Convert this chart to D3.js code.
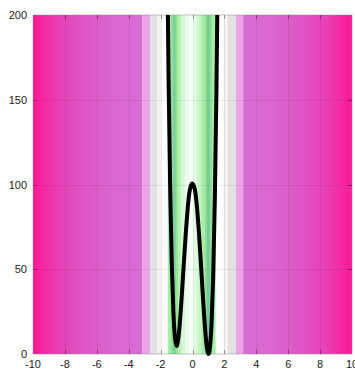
<!DOCTYPE html>
<html>
<head>
<meta charset="utf-8">
<script src="https://cdn.jsdelivr.net/npm/d3@7"></script>
<style>
  body { margin: 0; background: #fff; }
  svg  { display: block; font-family: "Liberation Sans", Arial, sans-serif; }
</style>
</head>
<body>
<svg id="chart" width="355" height="370"></svg>
<script>
'use strict';

/* ── Data ─────────────────────────────────────────────── */
const xTicks = [-10, -8, -6, -4, -2, 0, 2, 4, 6, 8, 10];
const yTicks = [0, 50, 100, 150, 200];

// double-well curve, sampled
const curveX = [-1.6, -1.5, -1.4, -1.3, -1.2, -1.1, -1.0, -0.9, -0.8, -0.7, -0.6, -0.5, -0.4,
                -0.3, -0.2, -0.1, 0, 0.1, 0.2, 0.3, 0.4, 0.5, 0.6, 0.7, 0.8, 0.9, 1.0,
                1.1, 1.2, 1.3, 1.4, 1.5, 1.6];
const curveY = [249.9, 162.5, 98.2, 53.4, 24.9, 9.7, 4.8, 8.4, 17.5, 30.3, 45.0, 60.0, 74.1,
                86.1, 95.0, 99.3, 100.5, 98.8, 94.0, 84.6, 72.1, 57.5, 42.0, 26.8, 13.5, 3.9, 0,
                4.2, 18.9, 46.9, 91.2, 155.0, 241.9];

// centre colour bands: edges (x) and fills
const bandEdges  = [-3.17, -2.66, -2.23, -1.95, -1.55, -1.38, -1.22, -1.05, -0.9, -0.7, -0.45, -0.2,
                    0.05, 0.3, 0.55, 0.75, 0.9, 1.08, 1.25, 1.45, 1.95, 2.23, 2.72, 3.17];
const bandColors = ['#e9a8e5', '#e2e2e2', '#f3f3f3', '#ffffff', '#a3f0a3', '#8fe08f', '#7ccfa0',
                    '#96e696', '#b5f2b5', '#d6f8d6', '#eefcee', '#fbfffb', '#e0fae0', '#c8f5c8',
                    '#a6eea6', '#92e092', '#74c9a0', '#8fe08f', '#a3f0a3', '#ffffff', '#f3f3f3',
                    '#e2e2e2', '#e9a8e5'];

// outer gradient, by |x|
const edgeStops  = [3.17, 5, 7, 8.5, 10];
const edgeColors = ['#d86dd4', '#da66cf', '#e053c4', '#ea3db2', '#fc1896'];

/* ── Layout ───────────────────────────────────────────── */
const W = 355, H = 370;
const PAD_L = 33, PAD_R = 3, PAD_T = 15, PAD_B = 16;

const svg = d3.select('#chart');

const xScale = d3.scaleLinear().domain([-10, 10]).range([PAD_L, W - PAD_R]);
const yScale = d3.scaleLinear().domain([0, 200]).range([H - PAD_B, PAD_T]);

const defs = svg.append('defs');

/* outer gradients, left and right */
[['edge-l', -1], ['edge-r', 1]].forEach(([id, sgn]) => {
  const g = defs.append('linearGradient')
    .attr('id', id).attr('gradientUnits', 'userSpaceOnUse')
    .attr('x1', xScale(sgn * edgeStops[0])).attr('x2', xScale(sgn * 10))
    .attr('y1', 0).attr('y2', 0);
  edgeStops.forEach((s, i) => {
    g.append('stop')
      .attr('offset', (s - edgeStops[0]) / (10 - edgeStops[0]))
      .attr('stop-color', edgeColors[i]);
  });
});

defs.append('clipPath').attr('id', 'clip-top')
  .append('rect')
  .attr('x', 0).attr('y', PAD_T)
  .attr('width', W).attr('height', H - PAD_T);

const plotH = yScale(0) - yScale(200);

svg.append('rect')
  .attr('x', xScale(-10)).attr('y', PAD_T)
  .attr('width', xScale(-edgeStops[0]) - xScale(-10) + 0.5).attr('height', plotH)
  .attr('fill', 'url(#edge-l)');

svg.append('rect')
  .attr('x', xScale(edgeStops[0]) - 0.5).attr('y', PAD_T)
  .attr('width', xScale(10) - xScale(edgeStops[0]) + 0.5).attr('height', plotH)
  .attr('fill', 'url(#edge-r)');

svg.append('g').selectAll('rect')
  .data(bandColors)
  .join('rect')
  .attr('x', (d, i) => xScale(bandEdges[i]))
  .attr('y', PAD_T)
  .attr('width', (d, i) => xScale(bandEdges[i + 1]) - xScale(bandEdges[i]) + 0.3)
  .attr('height', plotH)
  .attr('fill', d => d);

/* ── Grid ── */
const grid = svg.append('g').attr('stroke', '#000').attr('stroke-opacity', 0.07).attr('stroke-width', 1);
grid.selectAll('.gx')
  .data(xTicks.slice(1, -1))
  .join('line')
  .attr('x1', d => Math.round(xScale(d)) + 0.5).attr('x2', d => Math.round(xScale(d)) + 0.5)
  .attr('y1', PAD_T).attr('y2', yScale(0));
grid.selectAll('.gy')
  .data(yTicks.slice(1, -1))
  .join('line')
  .attr('y1', d => Math.round(yScale(d)) + 0.5).attr('y2', d => Math.round(yScale(d)) + 0.5)
  .attr('x1', xScale(-10)).attr('x2', xScale(10));

/* ── Border + mirrored inward ticks ── */
svg.append('rect')
  .attr('x', xScale(-10)).attr('y', PAD_T)
  .attr('width', xScale(10) - xScale(-10)).attr('height', plotH)
  .attr('fill', 'none').attr('stroke', '#888').attr('stroke-opacity', 0.5);

const ticks = svg.append('g').attr('stroke', '#000').attr('stroke-opacity', 0.35);
xTicks.slice(1, -1).forEach(v => {
  const x = Math.round(xScale(v)) + 0.5;
  ticks.append('line').attr('x1', x).attr('x2', x).attr('y1', yScale(0)).attr('y2', yScale(0) - 4);
  ticks.append('line').attr('x1', x).attr('x2', x).attr('y1', PAD_T).attr('y2', PAD_T + 4);
});
yTicks.slice(1, -1).forEach(v => {
  const y = Math.round(yScale(v)) + 0.5;
  ticks.append('line').attr('y1', y).attr('y2', y).attr('x1', xScale(-10)).attr('x2', xScale(-10) + 4);
  ticks.append('line').attr('y1', y).attr('y2', y).attr('x1', xScale(10)).attr('x2', xScale(10) - 4);
});

/* ── Curve ── */
const line = d3.line()
  .x((d, i) => xScale(curveX[i]))
  .y(d => yScale(d))
  .curve(d3.curveNatural);

svg.append('path')
  .datum(curveY)
  .attr('clip-path', 'url(#clip-top)')
  .attr('d', line)
  .attr('fill', 'none')
  .attr('stroke', '#000')
  .attr('stroke-width', 4)
  .attr('stroke-linejoin', 'round');

/* ── Tick labels ── */
svg.append('g').selectAll('text')
  .data(xTicks)
  .join('text')
  .attr('x', d => xScale(d))
  .attr('y', H - 2)
  .attr('text-anchor', 'middle')
  .attr('font-size', 11).attr('fill', '#222')
  .text(d => d);

svg.append('g').selectAll('text')
  .data(yTicks)
  .join('text')
  .attr('x', PAD_L - 6)
  .attr('y', d => yScale(d) + 4)
  .attr('text-anchor', 'end')
  .attr('font-size', 11).attr('fill', '#222')
  .text(d => d);
</script>
</body>
</html>
